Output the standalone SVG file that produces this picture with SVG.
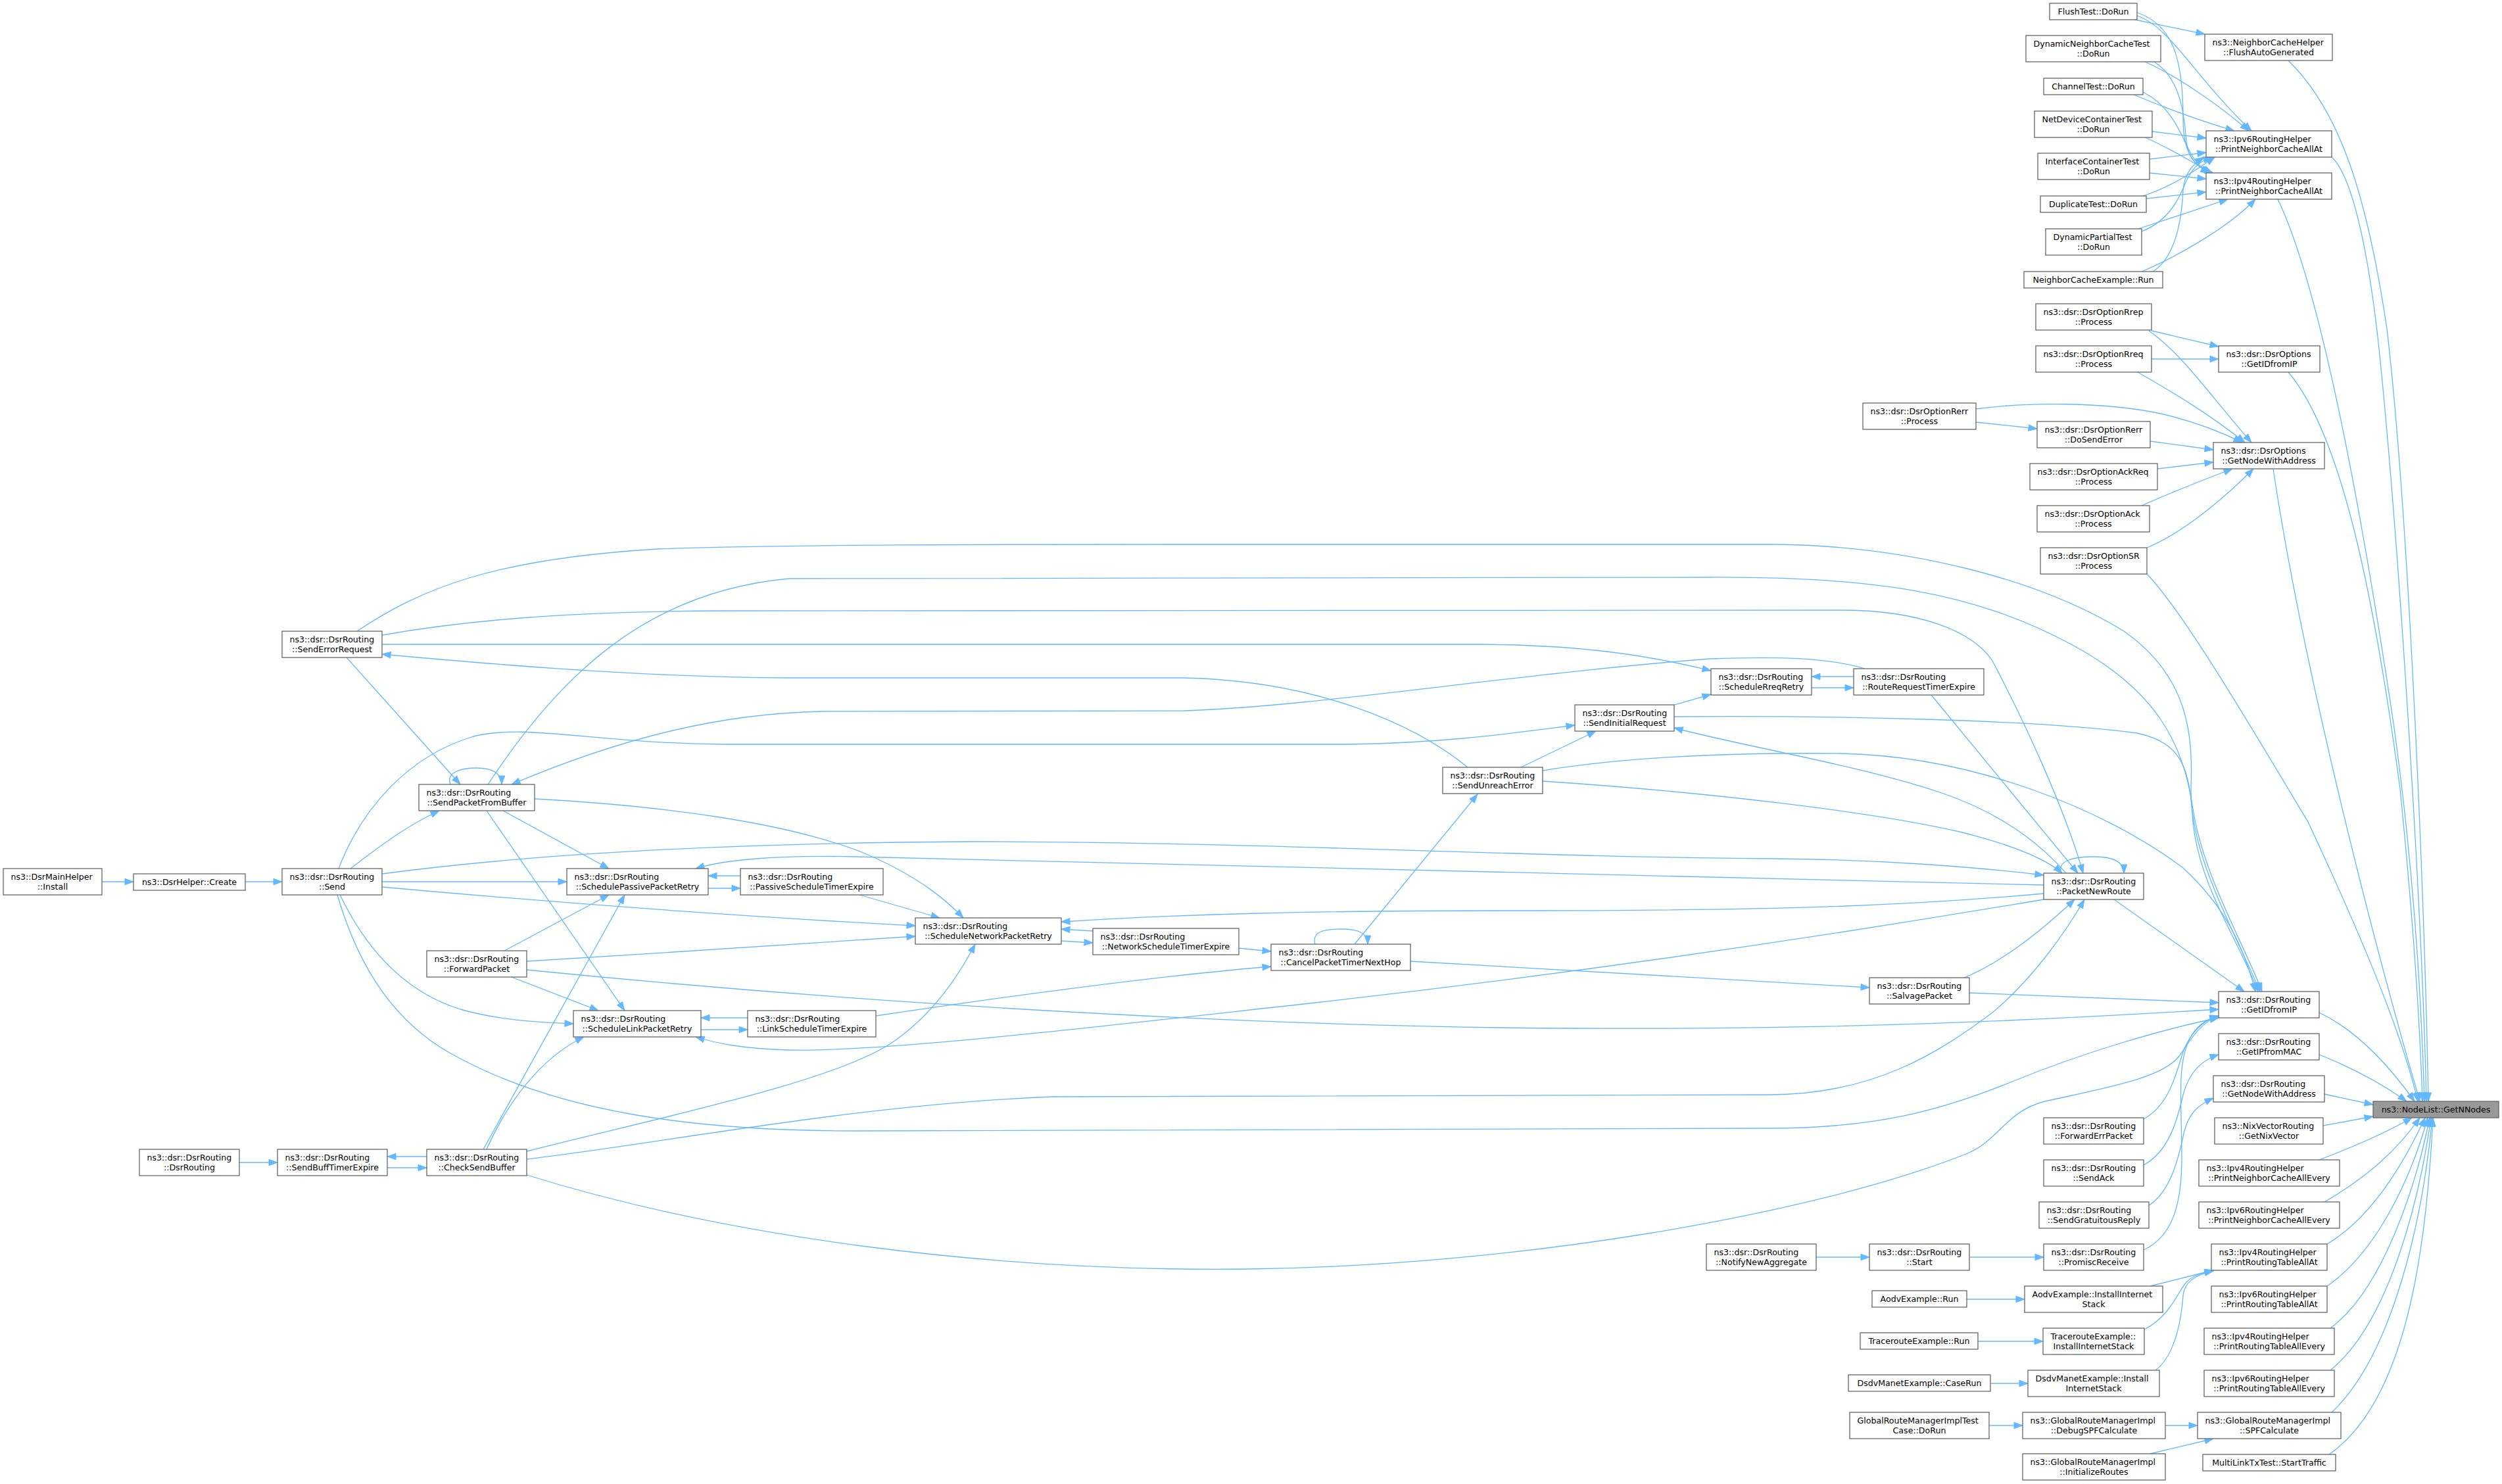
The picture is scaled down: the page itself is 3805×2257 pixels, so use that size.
<svg xmlns="http://www.w3.org/2000/svg" width="3805" height="2257" viewBox="0 0 3805 2257">
<defs>
<style>
.n rect{fill:#ffffff;stroke:#666666;stroke-width:1.3px}
.n.root rect{fill:#999999}
.n text{font-family:"DejaVu Sans","Liberation Sans",sans-serif;font-size:12.6px;fill:#000000}
.n text.c{text-anchor:middle}
#edges path{fill:none;stroke:#63b8ff;stroke-width:1.3px;marker-end:url(#ah)}
</style>
<marker id="ah" markerWidth="14" markerHeight="10" refX="13" refY="4.75" orient="auto" markerUnits="userSpaceOnUse" overflow="visible">
<path d="M0,0 L13,4.75 L0,9.5 Z" fill="#63b8ff" stroke="#63b8ff" stroke-width="1"/>
</marker>
</defs>
<rect x="0" y="0" width="3805" height="2257" fill="#ffffff"/>
<g id="edges">
<path d="M3247,30 L3353,52"/>
<path d="M3250,24 C3300,40 3340,120 3424,199"/>
<path d="M3250,19 C3305,38 3320,90 3320,180 C3320,232 3335,250 3360,263"/>
<path d="M3262,94 C3310,115 3375,160 3420,199"/>
<path d="M3276,94 C3318,120 3322,180 3325,215 C3328,245 3345,255 3362,263"/>
<path d="M3245,144 C3290,163 3350,185 3398,199"/>
<path d="M3259,140 C3300,160 3315,200 3330,230 C3340,250 3350,258 3366,263"/>
<path d="M3273,200 L3355,210"/>
<path d="M3262,209 C3300,225 3335,248 3364,263"/>
<path d="M3269,242 L3355,232"/>
<path d="M3269,263 L3355,272"/>
<path d="M3259,298 C3300,285 3335,262 3368,239"/>
<path d="M3264,302 L3355,292"/>
<path d="M3257,352 C3300,335 3315,300 3325,275 C3335,255 3345,245 3364,239"/>
<path d="M3252,348 L3388,303"/>
<path d="M3257,413 C3300,395 3385,350 3430,303"/>
<path d="M3274,413 C3310,390 3318,330 3320,290 C3322,262 3335,250 3352,239"/>
<path d="M3480,92 C3560,170 3600,300 3630,500 C3665,800 3688,1400 3693,1675"/>
<path d="M3546,239 C3580,270 3605,400 3620,550 C3650,850 3684,1400 3690,1675"/>
<path d="M3464,303 C3520,420 3580,700 3640,1100 C3668,1300 3682,1500 3687,1675"/>
<path d="M3480,566 C3560,660 3610,900 3650,1200 C3670,1400 3680,1550 3684,1675"/>
<path d="M3457,713 C3500,1000 3600,1400 3680,1675"/>
<path d="M3265,873 C3320,930 3420,1100 3510,1250 C3580,1400 3650,1560 3677,1675"/>
<path d="M3527,1540 C3590,1570 3640,1630 3672,1675"/>
<path d="M3527,1604 C3580,1625 3625,1650 3660,1675"/>
<path d="M3535,1664 L3609,1680"/>
<path d="M3533,1712 L3609,1698"/>
<path d="M3527,1764 C3590,1740 3630,1722 3668,1700"/>
<path d="M3535,1828 C3600,1790 3645,1750 3680,1700"/>
<path d="M3539,1892 C3610,1850 3660,1760 3688,1700"/>
<path d="M3539,1956 C3620,1900 3670,1780 3692,1700"/>
<path d="M3544,2020 C3625,1960 3675,1800 3695,1700"/>
<path d="M3544,2084 C3635,2010 3680,1820 3697,1700"/>
<path d="M3546,2148 C3640,2060 3685,1850 3699,1700"/>
<path d="M3542,2212 C3660,2130 3690,1900 3700,1700"/>
<path d="M3272,503 L3374,527"/>
<path d="M3268,503 C3320,540 3360,600 3424,673"/>
<path d="M3272,546 L3374,546"/>
<path d="M3251,566 C3310,600 3360,630 3414,673"/>
<path d="M3005,622 C3080,612 3200,610 3290,630 C3340,642 3380,658 3410,673"/>
<path d="M3005,642 L3098,652"/>
<path d="M3270,671 L3366,684"/>
<path d="M3281,713 L3366,703"/>
<path d="M3257,769 C3300,750 3350,730 3395,713"/>
<path d="M3265,833 C3320,810 3380,760 3427,713"/>
<path d="M2762,1912 L2843,1912"/>
<path d="M2995,1912 L3108,1912"/>
<path d="M2991,1976 L3079,1976"/>
<path d="M3008,2040 L3107,2040"/>
<path d="M3027,2104 L3084,2104"/>
<path d="M3025,2168 L3076,2168"/>
<path d="M3293,2168 L3342,2168"/>
<path d="M3270,2211 L3366,2188"/>
<path d="M3270,1956 L3366,1932"/>
<path d="M3261,2022 C3300,2002 3312,1965 3325,1950 C3335,1940 3348,1936 3366,1932"/>
<path d="M3278,2084 C3310,2060 3318,2000 3320,1970 C3322,1950 3340,1938 3366,1933"/>
<path d="M3260,1702 C3300,1680 3310,1630 3320,1600 C3332,1568 3350,1553 3374,1545"/>
<path d="M3260,1772 C3300,1750 3312,1700 3320,1665 C3330,1628 3350,1612 3374,1604"/>
<path d="M3267,1834 C3305,1810 3315,1750 3322,1720 C3330,1690 3345,1680 3366,1670"/>
<path d="M3260,1901 C3305,1880 3318,1830 3318,1760 C3318,1680 3310,1620 3330,1580 C3340,1560 3355,1550 3374,1545"/>
<path d="M2995,1510 L3374,1525"/>
<path d="M801,1475 C1300,1525 1900,1562 2400,1564 C2800,1566 3100,1552 3374,1535"/>
<path d="M513,1361 C545,1470 600,1560 700,1610 C850,1690 1050,1720 1300,1720 L2690,1716 C2850,1716 2950,1690 3060,1645 C3170,1600 3290,1565 3374,1548"/>
<path d="M801,1787 C1100,1880 1500,1935 1900,1930 C2300,1925 2750,1850 2990,1755 C3040,1735 3050,1690 3110,1675 C3200,1655 3290,1640 3315,1605 C3335,1575 3350,1553 3374,1546"/>
<path d="M801,1763 C1000,1740 1300,1680 1600,1668 L2690,1665 C2850,1665 2950,1600 3030,1540 C3090,1490 3140,1420 3170,1368"/>
<path d="M581,1329 C800,1300 1100,1282 1480,1280 C1900,1280 2300,1303 2700,1306 C2850,1307 3000,1318 3108,1331"/>
<path d="M3108,1346 C2700,1335 2000,1320 1300,1303 C1180,1300 1100,1308 1058,1321"/>
<path d="M3108,1359 C2900,1378 2700,1385 2300,1385 C2000,1385 1800,1390 1614,1402"/>
<path d="M3108,1368 C2800,1420 2400,1480 2000,1525 C1700,1558 1350,1600 1200,1597 C1130,1595 1090,1587 1058,1577"/>
<path d="M3142,1328 C3100,1280 3040,1235 2950,1205 C2820,1162 2650,1135 2546,1107"/>
<path d="M2346,1188 C2600,1205 2850,1235 2980,1265 C3060,1285 3110,1305 3136,1328"/>
<path d="M2346,1172 C2450,1155 2600,1144 2800,1146 C3000,1150 3200,1230 3320,1320 C3385,1380 3412,1440 3430,1508"/>
<path d="M2546,1090 C2800,1088 3100,1095 3250,1115 C3320,1130 3330,1170 3335,1250 C3345,1350 3405,1430 3434,1508"/>
<path d="M543,960 C640,895 750,850 1000,835 C1200,828 1500,828 1800,828 L2700,828 C2900,830 3100,880 3230,960 C3330,1030 3335,1120 3332,1200 C3330,1300 3400,1420 3437,1508"/>
<path d="M742,1193 C850,1030 980,900 1200,880 C1500,878 2000,878 2600,878 C2850,877 3000,900 3150,980 C3280,1050 3320,1130 3335,1230 C3350,1330 3410,1430 3440,1508"/>
<path d="M581,966 C700,945 850,930 1100,929 L2800,928 C2920,928 3000,960 3030,1005 C3080,1100 3140,1230 3168,1328"/>
<path d="M581,980 L2250,980 C2400,981 2500,995 2602,1020"/>
<path d="M2232,1167 C2150,1100 2000,1035 1800,1031 L1200,1031 C1000,1030 800,1015 581,995"/>
<path d="M2836,1017 C2780,1000 2700,998 2600,1002 C2300,1025 2000,1075 1800,1081 L1250,1082 C1100,1085 950,1120 778,1193"/>
<path d="M515,1321 C550,1230 620,1150 720,1120 C800,1100 900,1130 1100,1132 L2050,1132 C2200,1130 2300,1115 2395,1103"/>
<path d="M2060,1436 L2247,1208"/>
<path d="M2313,1167 L2427,1112"/>
<path d="M2546,1072 L2602,1056"/>
<path d="M2755,1046 L2819,1046"/>
<path d="M2819,1029 L2755,1029"/>
<path d="M2937,1057 L3160,1328"/>
<path d="M3135,1328 C3128,1310 3150,1303 3185,1303 C3215,1303 3230,1312 3230,1328"/>
<path d="M3215,1368 L3413,1508"/>
<path d="M2987,1487 C3040,1465 3100,1420 3155,1368"/>
<path d="M2145,1462 L2843,1502"/>
<path d="M2000,1436 C1995,1418 2010,1413 2040,1413 C2068,1413 2080,1420 2080,1436"/>
<path d="M1884,1442 L1933,1447"/>
<path d="M1332,1545 C1500,1520 1750,1485 1933,1470"/>
<path d="M1614,1431 L1662,1434"/>
<path d="M1662,1416 L1614,1413"/>
<path d="M1307,1361 L1429,1396"/>
<path d="M581,1349 C900,1378 1200,1398 1392,1408"/>
<path d="M801,1462 C1000,1450 1250,1433 1392,1424"/>
<path d="M813,1215 C1000,1225 1200,1250 1320,1300 C1400,1335 1440,1370 1465,1396"/>
<path d="M801,1751 C1000,1700 1250,1650 1350,1590 C1420,1545 1460,1480 1483,1436"/>
<path d="M1077,1351 L1126,1351"/>
<path d="M1126,1332 L1077,1332"/>
<path d="M1066,1566 L1137,1566"/>
<path d="M1137,1548 L1066,1548"/>
<path d="M685,1193 C678,1175 700,1168 725,1168 C750,1168 763,1177 763,1193"/>
<path d="M527,1000 L700,1193"/>
<path d="M533,1321 C580,1285 620,1255 668,1233"/>
<path d="M581,1341 L862,1341"/>
<path d="M517,1361 C560,1450 620,1510 700,1535 C760,1552 820,1555 872,1557"/>
<path d="M765,1233 L926,1321"/>
<path d="M740,1233 L950,1537"/>
<path d="M767,1446 L926,1361"/>
<path d="M778,1486 L910,1537"/>
<path d="M735,1748 L950,1361"/>
<path d="M740,1748 C770,1680 820,1610 888,1577"/>
<path d="M589,1776 L649,1776"/>
<path d="M649,1759 L589,1759"/>
<path d="M364,1768 L422,1768"/>
<path d="M373,1341 L429,1341"/>
<path d="M155,1341 L203,1341"/>
</g>
<g id="n_getnnodes" class="n root"><rect x="3609" y="1675" width="191" height="25"/><text class="c" x="3704.5" y="1692">ns3::NodeList::GetNNodes</text></g>
<g id="n_flushauto" class="n"><rect x="3353" y="52" width="194" height="40"/><text x="3364.5" y="68.7">ns3::NeighborCacheHelper</text><text class="c" x="3450" y="83.7">::FlushAutoGenerated</text></g>
<g id="n_ipv6pncaa" class="n"><rect x="3355" y="199" width="191" height="40"/><text x="3366.5" y="215.7">ns3::Ipv6RoutingHelper</text><text class="c" x="3450.5" y="230.7">::PrintNeighborCacheAllAt</text></g>
<g id="n_ipv4pncaa" class="n"><rect x="3355" y="263" width="191" height="40"/><text x="3366.5" y="279.7">ns3::Ipv4RoutingHelper</text><text class="c" x="3450.5" y="294.7">::PrintNeighborCacheAllAt</text></g>
<g id="n_optgetid" class="n"><rect x="3374" y="526" width="154" height="40"/><text x="3385.5" y="542.7">ns3::dsr::DsrOptions</text><text class="c" x="3451" y="557.7">::GetIDfromIP</text></g>
<g id="n_optgnwa" class="n"><rect x="3366" y="673" width="169" height="40"/><text x="3377.5" y="689.7">ns3::dsr::DsrOptions</text><text class="c" x="3450.5" y="704.7">::GetNodeWithAddress</text></g>
<g id="n_routegetid" class="n"><rect x="3374" y="1508" width="153" height="40"/><text x="3385.5" y="1524.7">ns3::dsr::DsrRouting</text><text class="c" x="3450.5" y="1539.7">::GetIDfromIP</text></g>
<g id="n_getipfrommac" class="n"><rect x="3374" y="1572" width="153" height="40"/><text x="3385.5" y="1588.7">ns3::dsr::DsrRouting</text><text class="c" x="3450.5" y="1603.7">::GetIPfromMAC</text></g>
<g id="n_routegnwa" class="n"><rect x="3366" y="1636" width="169" height="40"/><text x="3377.5" y="1652.7">ns3::dsr::DsrRouting</text><text class="c" x="3450.5" y="1667.7">::GetNodeWithAddress</text></g>
<g id="n_nix" class="n"><rect x="3368" y="1700" width="165" height="40"/><text x="3379.5" y="1716.7">ns3::NixVectorRouting</text><text class="c" x="3450.5" y="1731.7">::GetNixVector</text></g>
<g id="n_ipv4pncae" class="n"><rect x="3344" y="1764" width="214" height="40"/><text x="3355.5" y="1780.7">ns3::Ipv4RoutingHelper</text><text class="c" x="3451" y="1795.7">::PrintNeighborCacheAllEvery</text></g>
<g id="n_ipv6pncae" class="n"><rect x="3344" y="1828" width="214" height="40"/><text x="3355.5" y="1844.7">ns3::Ipv6RoutingHelper</text><text class="c" x="3451" y="1859.7">::PrintNeighborCacheAllEvery</text></g>
<g id="n_ipv4prtaa" class="n"><rect x="3363" y="1892" width="176" height="40"/><text x="3374.5" y="1908.7">ns3::Ipv4RoutingHelper</text><text class="c" x="3451" y="1923.7">::PrintRoutingTableAllAt</text></g>
<g id="n_ipv6prtaa" class="n"><rect x="3363" y="1956" width="176" height="40"/><text x="3374.5" y="1972.7">ns3::Ipv6RoutingHelper</text><text class="c" x="3451" y="1987.7">::PrintRoutingTableAllAt</text></g>
<g id="n_ipv4prtae" class="n"><rect x="3352" y="2020" width="198" height="40"/><text x="3363.5" y="2036.7">ns3::Ipv4RoutingHelper</text><text class="c" x="3451" y="2051.7">::PrintRoutingTableAllEvery</text></g>
<g id="n_ipv6prtae" class="n"><rect x="3352" y="2084" width="198" height="40"/><text x="3363.5" y="2100.7">ns3::Ipv6RoutingHelper</text><text class="c" x="3451" y="2115.7">::PrintRoutingTableAllEvery</text></g>
<g id="n_spf" class="n"><rect x="3342" y="2148" width="218" height="40"/><text x="3353.5" y="2164.7">ns3::GlobalRouteManagerImpl</text><text class="c" x="3451" y="2179.7">::SPFCalculate</text></g>
<g id="n_starttraffic" class="n"><rect x="3350" y="2212" width="202" height="25"/><text class="c" x="3451" y="2229">MultiLinkTxTest::StartTraffic</text></g>
<g id="n_flushtest" class="n"><rect x="3117" y="5" width="133" height="25"/><text class="c" x="3183.5" y="22">FlushTest::DoRun</text></g>
<g id="n_dnct" class="n"><rect x="3081" y="54" width="205" height="40"/><text x="3092.5" y="70.7">DynamicNeighborCacheTest</text><text class="c" x="3183.5" y="85.7">::DoRun</text></g>
<g id="n_channeltest" class="n"><rect x="3108" y="119" width="151" height="25"/><text class="c" x="3183.5" y="136">ChannelTest::DoRun</text></g>
<g id="n_ndct" class="n"><rect x="3094" y="169" width="179" height="40"/><text x="3105.5" y="185.7">NetDeviceContainerTest</text><text class="c" x="3183.5" y="200.7">::DoRun</text></g>
<g id="n_ict" class="n"><rect x="3099" y="233" width="170" height="40"/><text x="3110.5" y="249.7">InterfaceContainerTest</text><text class="c" x="3184" y="264.7">::DoRun</text></g>
<g id="n_duplicate" class="n"><rect x="3103" y="298" width="161" height="25"/><text class="c" x="3183.5" y="315">DuplicateTest::DoRun</text></g>
<g id="n_dpt" class="n"><rect x="3111" y="348" width="146" height="40"/><text x="3122.5" y="364.7">DynamicPartialTest</text><text class="c" x="3184" y="379.7">::DoRun</text></g>
<g id="n_nce" class="n"><rect x="3078" y="413" width="211" height="25"/><text class="c" x="3183.5" y="430">NeighborCacheExample::Run</text></g>
<g id="n_rrep" class="n"><rect x="3096" y="462" width="176" height="40"/><text x="3107.5" y="478.7">ns3::dsr::DsrOptionRrep</text><text class="c" x="3184" y="493.7">::Process</text></g>
<g id="n_rreq" class="n"><rect x="3096" y="526" width="176" height="40"/><text x="3107.5" y="542.7">ns3::dsr::DsrOptionRreq</text><text class="c" x="3184" y="557.7">::Process</text></g>
<g id="n_rerrdse" class="n"><rect x="3098" y="641" width="172" height="40"/><text x="3109.5" y="657.7">ns3::dsr::DsrOptionRerr</text><text class="c" x="3184" y="672.7">::DoSendError</text></g>
<g id="n_ackreq" class="n"><rect x="3087" y="705" width="194" height="40"/><text x="3098.5" y="721.7">ns3::dsr::DsrOptionAckReq</text><text class="c" x="3184" y="736.7">::Process</text></g>
<g id="n_ack" class="n"><rect x="3098" y="769" width="171" height="40"/><text x="3109.5" y="785.7">ns3::dsr::DsrOptionAck</text><text class="c" x="3183.5" y="800.7">::Process</text></g>
<g id="n_sr" class="n"><rect x="3103" y="833" width="162" height="40"/><text x="3114.5" y="849.7">ns3::dsr::DsrOptionSR</text><text class="c" x="3184" y="864.7">::Process</text></g>
<g id="n_rerrproc" class="n"><rect x="2833" y="613" width="172" height="40"/><text x="2844.5" y="629.7">ns3::dsr::DsrOptionRerr</text><text class="c" x="2919" y="644.7">::Process</text></g>
<g id="n_pnr" class="n"><rect x="3108" y="1328" width="152" height="40"/><text x="3119.5" y="1344.7">ns3::dsr::DsrRouting</text><text class="c" x="3184" y="1359.7">::PacketNewRoute</text></g>
<g id="n_fep" class="n"><rect x="3108" y="1700" width="152" height="40"/><text x="3119.5" y="1716.7">ns3::dsr::DsrRouting</text><text class="c" x="3184" y="1731.7">::ForwardErrPacket</text></g>
<g id="n_sendack" class="n"><rect x="3108" y="1764" width="152" height="40"/><text x="3119.5" y="1780.7">ns3::dsr::DsrRouting</text><text class="c" x="3184" y="1795.7">::SendAck</text></g>
<g id="n_sgr" class="n"><rect x="3101" y="1828" width="167" height="40"/><text x="3112.5" y="1844.7">ns3::dsr::DsrRouting</text><text class="c" x="3184.5" y="1859.7">::SendGratuitousReply</text></g>
<g id="n_promisc" class="n"><rect x="3108" y="1892" width="152" height="40"/><text x="3119.5" y="1908.7">ns3::dsr::DsrRouting</text><text class="c" x="3184" y="1923.7">::PromiscReceive</text></g>
<g id="n_aodviis" class="n"><rect x="3079" y="1956" width="210" height="40"/><text x="3090.5" y="1972.7">AodvExample::InstallInternet</text><text class="c" x="3184" y="1987.7">Stack</text></g>
<g id="n_traceiis" class="n"><rect x="3107" y="2020" width="154" height="40"/><text x="3118.5" y="2036.7">TracerouteExample::</text><text class="c" x="3184" y="2051.7">InstallInternetStack</text></g>
<g id="n_dsdviis" class="n"><rect x="3084" y="2084" width="200" height="40"/><text x="3095.5" y="2100.7">DsdvManetExample::Install</text><text class="c" x="3184" y="2115.7">InternetStack</text></g>
<g id="n_debugspf" class="n"><rect x="3076" y="2148" width="217" height="40"/><text x="3087.5" y="2164.7">ns3::GlobalRouteManagerImpl</text><text class="c" x="3184.5" y="2179.7">::DebugSPFCalculate</text></g>
<g id="n_initroutes" class="n"><rect x="3076" y="2211" width="217" height="40"/><text x="3087.5" y="2227.7">ns3::GlobalRouteManagerImpl</text><text class="c" x="3184.5" y="2242.7">::InitializeRoutes</text></g>
<g id="n_rrte" class="n"><rect x="2819" y="1017" width="198" height="40"/><text x="2830.5" y="1033.7">ns3::dsr::DsrRouting</text><text class="c" x="2918" y="1048.7">::RouteRequestTimerExpire</text></g>
<g id="n_salvage" class="n"><rect x="2843" y="1487" width="152" height="40"/><text x="2854.5" y="1503.7">ns3::dsr::DsrRouting</text><text class="c" x="2919" y="1518.7">::SalvagePacket</text></g>
<g id="n_start" class="n"><rect x="2843" y="1892" width="152" height="40"/><text x="2854.5" y="1908.7">ns3::dsr::DsrRouting</text><text class="c" x="2919" y="1923.7">::Start</text></g>
<g id="n_aodvrun" class="n"><rect x="2847" y="1963" width="144" height="25"/><text class="c" x="2919" y="1980">AodvExample::Run</text></g>
<g id="n_tracerun" class="n"><rect x="2829" y="2027" width="179" height="25"/><text class="c" x="2918.5" y="2044">TracerouteExample::Run</text></g>
<g id="n_dsdvcaserun" class="n"><rect x="2811" y="2091" width="216" height="25"/><text class="c" x="2919" y="2108">DsdvManetExample::CaseRun</text></g>
<g id="n_grmtest" class="n"><rect x="2813" y="2148" width="212" height="40"/><text x="2824.5" y="2164.7">GlobalRouteManagerImplTest</text><text class="c" x="2919" y="2179.7">Case::DoRun</text></g>
<g id="n_rreqretry" class="n"><rect x="2602" y="1017" width="153" height="40"/><text x="2613.5" y="1033.7">ns3::dsr::DsrRouting</text><text class="c" x="2678.5" y="1048.7">::ScheduleRreqRetry</text></g>
<g id="n_notify" class="n"><rect x="2595" y="1892" width="167" height="40"/><text x="2606.5" y="1908.7">ns3::dsr::DsrRouting</text><text class="c" x="2678.5" y="1923.7">::NotifyNewAggregate</text></g>
<g id="n_sendinit" class="n"><rect x="2395" y="1072" width="151" height="40"/><text x="2406.5" y="1088.7">ns3::dsr::DsrRouting</text><text class="c" x="2470.5" y="1103.7">::SendInitialRequest</text></g>
<g id="n_sendunreach" class="n"><rect x="2194" y="1167" width="152" height="40"/><text x="2205.5" y="1183.7">ns3::dsr::DsrRouting</text><text class="c" x="2270" y="1198.7">::SendUnreachError</text></g>
<g id="n_cancel" class="n"><rect x="1933" y="1436" width="212" height="40"/><text x="1944.5" y="1452.7">ns3::dsr::DsrRouting</text><text class="c" x="2039" y="1467.7">::CancelPacketTimerNextHop</text></g>
<g id="n_netsched" class="n"><rect x="1662" y="1412" width="222" height="40"/><text x="1673.5" y="1428.7">ns3::dsr::DsrRouting</text><text class="c" x="1773" y="1443.7">::NetworkScheduleTimerExpire</text></g>
<g id="n_schednet" class="n"><rect x="1392" y="1396" width="222" height="40"/><text x="1403.5" y="1412.7">ns3::dsr::DsrRouting</text><text class="c" x="1503" y="1427.7">::ScheduleNetworkPacketRetry</text></g>
<g id="n_passivesched" class="n"><rect x="1126" y="1321" width="217" height="40"/><text x="1137.5" y="1337.7">ns3::dsr::DsrRouting</text><text class="c" x="1234.5" y="1352.7">::PassiveScheduleTimerExpire</text></g>
<g id="n_linksched" class="n"><rect x="1137" y="1537" width="195" height="40"/><text x="1148.5" y="1553.7">ns3::dsr::DsrRouting</text><text class="c" x="1234.5" y="1568.7">::LinkScheduleTimerExpire</text></g>
<g id="n_schedpassive" class="n"><rect x="862" y="1321" width="215" height="40"/><text x="873.5" y="1337.7">ns3::dsr::DsrRouting</text><text class="c" x="969.5" y="1352.7">::SchedulePassivePacketRetry</text></g>
<g id="n_schedlink" class="n"><rect x="872" y="1537" width="194" height="40"/><text x="883.5" y="1553.7">ns3::dsr::DsrRouting</text><text class="c" x="969" y="1568.7">::ScheduleLinkPacketRetry</text></g>
<g id="n_sendpfb" class="n"><rect x="637" y="1193" width="176" height="40"/><text x="648.5" y="1209.7">ns3::dsr::DsrRouting</text><text class="c" x="725" y="1224.7">::SendPacketFromBuffer</text></g>
<g id="n_fwdpacket" class="n"><rect x="649" y="1446" width="152" height="40"/><text x="660.5" y="1462.7">ns3::dsr::DsrRouting</text><text class="c" x="725" y="1477.7">::ForwardPacket</text></g>
<g id="n_checksend" class="n"><rect x="649" y="1748" width="152" height="40"/><text x="660.5" y="1764.7">ns3::dsr::DsrRouting</text><text class="c" x="725" y="1779.7">::CheckSendBuffer</text></g>
<g id="n_senderrreq" class="n"><rect x="429" y="960" width="152" height="40"/><text x="440.5" y="976.7">ns3::dsr::DsrRouting</text><text class="c" x="505" y="991.7">::SendErrorRequest</text></g>
<g id="n_send" class="n"><rect x="429" y="1321" width="152" height="40"/><text x="440.5" y="1337.7">ns3::dsr::DsrRouting</text><text class="c" x="505" y="1352.7">::Send</text></g>
<g id="n_sendbuff" class="n"><rect x="422" y="1748" width="167" height="40"/><text x="433.5" y="1764.7">ns3::dsr::DsrRouting</text><text class="c" x="505.5" y="1779.7">::SendBuffTimerExpire</text></g>
<g id="n_dsrrouting" class="n"><rect x="212" y="1748" width="152" height="40"/><text x="223.5" y="1764.7">ns3::dsr::DsrRouting</text><text class="c" x="288" y="1779.7">::DsrRouting</text></g>
<g id="n_create" class="n"><rect x="203" y="1329" width="170" height="25"/><text class="c" x="288" y="1346">ns3::DsrHelper::Create</text></g>
<g id="n_install" class="n"><rect x="5" y="1321" width="150" height="40"/><text x="16.5" y="1337.7">ns3::DsrMainHelper</text><text class="c" x="80" y="1352.7">::Install</text></g>
</svg>
